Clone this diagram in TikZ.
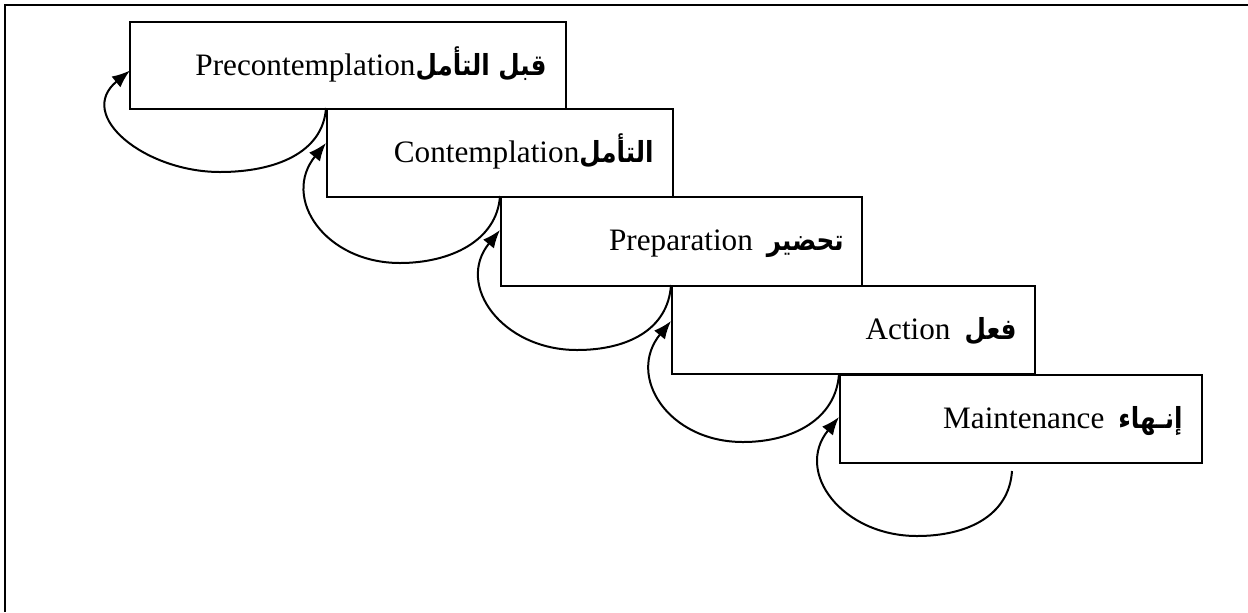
\documentclass[tikz,border=0pt]{standalone}
\usepackage{fontspec}
\setmainfont{Liberation Serif}
\newfontfamily\arabicfont[Script=Arabic,FakeStretch=0.85]{DejaVu Sans}
\TeXXeTstate=1
\usetikzlibrary{arrows.meta,calc}
% Arabic words, bold, set right to left
\newcommand\artext[1]{{\arabicfont\bfseries\fontsize{14.5}{17}\selectfont\beginR #1\endR}}
\begin{document}
\begin{tikzpicture}[x=0.5pt,y=0.5pt,
  stage/.style={draw, line width=1pt, inner sep=0pt, minimum height=44pt},
  caption/.style={anchor=base east, inner sep=0pt, font=\fontsize{15.6}{18}\selectfont},
  loop/.style={line width=1pt, -{Latex[length=9pt,width=7pt]}}]
\useasboundingbox (0,0) rectangle (1248,-612);
% page frame (top and left sides)
\draw[line width=1.3pt] (5,-612) -- (5,-5) -- (1248,-5);

% the five stages, stepping down to the right
\node[stage, minimum width=218pt, minimum height=43.5pt] (b1) at (348,-65.5) {};
\node[stage, minimum width=173pt] (b2) at (500,-153) {};
\node[stage, minimum width=180.5pt, minimum height=44.5pt] (b3) at (681.5,-241.5) {};
\node[stage, minimum width=181.5pt] (b4) at (853.5,-330) {};
\node[stage, minimum width=181pt] (b5) at (1021,-419) {};

% stage captions
\node[caption] (t1) at ($(b1.east)+(-20,-9.5)$) {Precontemplation\artext{قبل التأمل}};
\node[caption] (t2) at ($(b2.east)+(-20,-9)$) {Contemplation\artext{التأمل}};
\node[caption] (t3) at ($(b3.east)+(-19,-9)$) {Preparation\hspace{7pt}\artext{تحضير}};
\node[caption] (t4) at ($(b4.east)+(-19,-9)$) {Action\hspace{7pt}\artext{فعل}};
\node[caption] (t5) at ($(b5.east)+(-20,-9)$) {Maintenance\hspace{7pt}\artext{إنـهاء}};

% lowest points of the return loops
\coordinate (d1) at (220,-172);
\coordinate (d2) at (400,-263);
\coordinate (d3) at (577,-350);
\coordinate (d4) at (743,-442);
\coordinate (d5) at (917,-536);
\coordinate (e5) at ($(b5.south)+(-9,-7)$);

% return loops back to the start of each stage
\draw[loop] (b2.north west) .. controls +(-3,-45) and +(55,0) .. (d1)
  .. controls +(-75,0) and +(-55,-45) .. ($(b1.west)+(1,-5)$);
\draw[loop] (b3.north west) .. controls +(-3,-45) and +(50,0) .. (d2)
  .. controls +(-75,0) and +(-45,-55) .. ($(b2.west)+(0,10)$);
\draw[loop] (b4.north west) .. controls +(-3,-45) and +(50,0) .. (d3)
  .. controls +(-75,0) and +(-45,-55) .. ($(b3.west)+(0,11.5)$);
\draw[loop] (b5.north west) .. controls +(-3,-45) and +(50,0) .. (d4)
  .. controls +(-75,0) and +(-45,-55) .. ($(b4.west)+(0,9)$);
\draw[loop] (e5) .. controls +(-3,-45) and +(50,0) .. (d5)
  .. controls +(-75,0) and +(-45,-55) .. ($(b5.west)+(0,2)$);
\end{tikzpicture}
\end{document}
